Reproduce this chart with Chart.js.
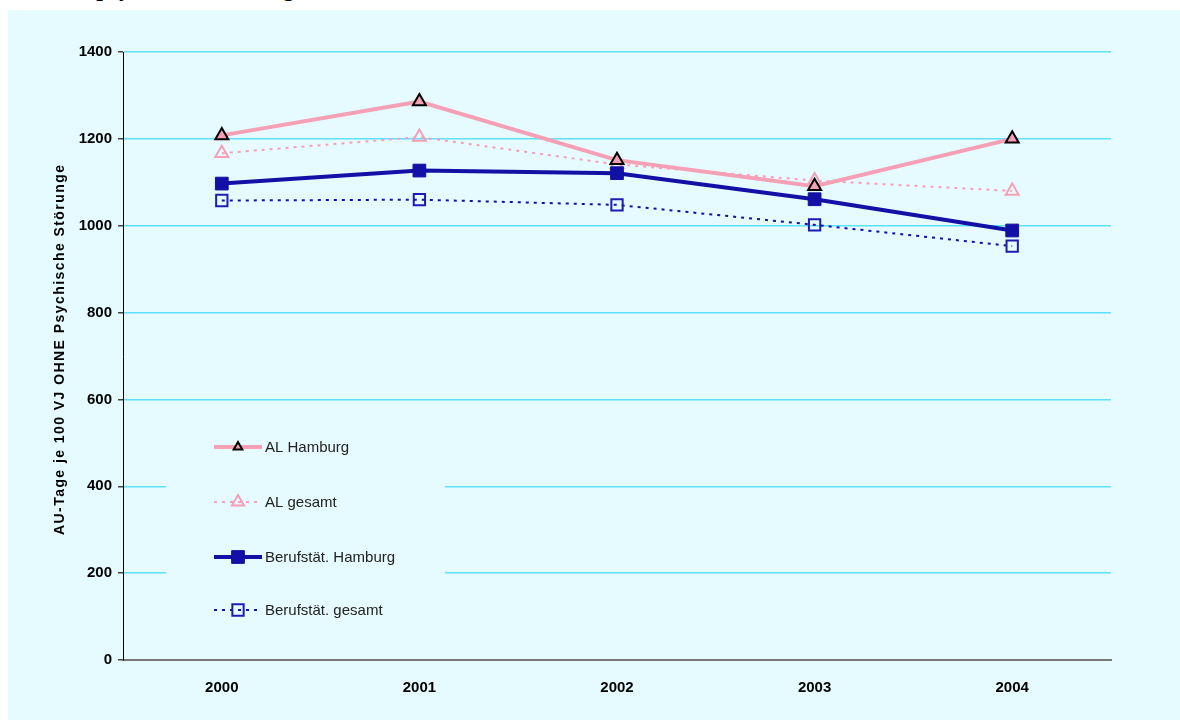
<!DOCTYPE html>
<html>
<head>
<meta charset="utf-8">
<script src="https://cdn.jsdelivr.net/npm/chart.js@4/dist/chart.umd.min.js"></script>
<style>
  html, body { margin: 0; padding: 0; background: #ffffff; width: 1180px; height: 720px; overflow: hidden; }
  #heading { position: absolute; left: 0; top: 0; width: 1180px; height: 10px; overflow: hidden; }
  #heading span { position: absolute; left: 41px; top: -24.5px; font: bold 24px "Liberation Serif", serif; line-height: 24px; color: #000; white-space: nowrap; }
  #panel { position: absolute; left: 8px; top: 10px; width: 1172px; height: 710px; background: #e6fbff; }
  canvas { display: block; }
</style>
</head>
<body>
<div id="heading"><span>ohne psychische Störungen</span></div>
<div id="panel"><canvas id="chart" width="1172" height="710"></canvas></div>
<script>
// Years on the category axis
const years = ['2000', '2001', '2002', '2003', '2004'];

// AU days per 100 insured years, excluding mental disorders
const alHamburg = [1208, 1286, 1151, 1091, 1200];
const alGesamt = [1167, 1204, 1141, 1104, 1080];
const berufHamburg = [1097, 1127, 1121, 1061, 989];
const berufGesamt = [1058, 1060, 1048, 1002, 953];

// Value axis ticks
const yTicks = [0, 200, 400, 600, 800, 1000, 1200, 1400];

const seriesNames = ['AL Hamburg', 'AL gesamt', 'Berufstät. Hamburg', 'Berufstät. gesamt'];
const yTitle = 'AU-Tage je 100 VJ OHNE Psychische Störunge';

const PINK = '#f5a0b4';
const NAVY = '#1111a6';
const PANEL = '#e6fbff';
const FONT = '"Liberation Sans", Arial, sans-serif';

// Rotated value-axis caption, spread out to run along the axis
const axisCaption = {
  id: 'axisCaption',
  afterDraw(chart) {
    const ctx = chart.ctx;
    ctx.save();
    ctx.font = 'bold 14px ' + FONT;
    const plain = ctx.measureText(yTitle).width;
    const target = 370;
    const spacing = Math.max(0, (target - plain) / (yTitle.length - 1));
    ctx.letterSpacing = spacing.toFixed(2) + 'px';
    ctx.translate(52, 340);
    ctx.rotate(-Math.PI / 2);
    ctx.fillStyle = '#000000';
    ctx.textBaseline = 'middle';
    ctx.textAlign = 'left';
    ctx.fillText(yTitle, -target / 2, 0);
    ctx.restore();
  }
};

// Legend drawn inside the plot area, on its own panel-coloured box
const innerLegend = {
  id: 'innerLegend',
  afterDatasetsDraw(chart) {
    const ctx = chart.ctx;
    const box = { x: 158, y: 405, w: 279, h: 225 };
    ctx.save();
    ctx.fillStyle = PANEL;
    ctx.fillRect(box.x, box.y, box.w, box.h);
    const rowY = [437, 492, 547, 600];
    const x0 = 206, x1 = 254, xm = 230;
    chart.data.datasets.forEach((ds, i) => {
      const y = rowY[i];
      ctx.save();
      ctx.strokeStyle = ds.borderColor;
      ctx.lineWidth = ds.borderWidth;
      ctx.setLineDash(ds.borderDash || []);
      ctx.beginPath();
      ctx.moveTo(x0, y);
      ctx.lineTo(x1, y);
      ctx.stroke();
      ctx.restore();
      ctx.save();
      ctx.fillStyle = ds.pointBackgroundColor;
      ctx.strokeStyle = ds.pointBorderColor;
      ctx.lineWidth = ds.pointBorderWidth;
      Chart.helpers.drawPoint(ctx, {
        pointStyle: ds.pointStyle,
        radius: ds.legendRadius,
        borderWidth: ds.pointBorderWidth,
        rotation: 0
      }, xm, y);
      ctx.restore();
      ctx.fillStyle = '#222222';
      ctx.font = '15px ' + FONT;
      ctx.textAlign = 'left';
      ctx.textBaseline = 'middle';
      ctx.fillText(ds.label, 257, y + 1);
    });
    ctx.restore();
  }
};

new Chart(document.getElementById('chart'), {
  type: 'line',
  data: {
    labels: years,
    datasets: [
      {
        label: seriesNames[0],
        data: alHamburg,
        borderColor: PINK,
        borderWidth: 4,
        pointStyle: 'triangle',
        pointRadius: 7.5,
        pointBackgroundColor: PINK,
        pointBorderColor: '#000000',
        pointBorderWidth: 2,
        legendRadius: 5,
        tension: 0,
        order: 2
      },
      {
        label: seriesNames[1],
        data: alGesamt,
        borderColor: PINK,
        borderWidth: 2,
        borderDash: [3, 5],
        pointStyle: 'triangle',
        pointRadius: 7.5,
        pointBackgroundColor: 'rgba(0,0,0,0)',
        pointBorderColor: PINK,
        pointBorderWidth: 2,
        legendRadius: 7,
        tension: 0,
        order: 3
      },
      {
        label: seriesNames[2],
        data: berufHamburg,
        borderColor: NAVY,
        borderWidth: 4,
        pointStyle: 'rect',
        pointRadius: 9,
        pointBackgroundColor: NAVY,
        pointBorderColor: NAVY,
        pointBorderWidth: 1,
        legendRadius: 9,
        tension: 0,
        order: 1
      },
      {
        label: seriesNames[3],
        data: berufGesamt,
        borderColor: NAVY,
        borderWidth: 2,
        borderDash: [3, 5],
        pointStyle: 'rect',
        pointRadius: 8,
        pointBackgroundColor: 'rgba(0,0,0,0)',
        pointBorderColor: '#1c1cb4',
        pointBorderWidth: 2,
        legendRadius: 8,
        tension: 0,
        order: 4
      }
    ]
  },
  options: {
    responsive: false,
    animation: false,
    layout: { padding: { left: 0, top: 42, right: 69, bottom: 0 } },
    plugins: {
      legend: { display: false },
      tooltip: { enabled: false },
      title: { display: false }
    },
    scales: {
      x: {
        type: 'category',
        offset: true,
        grid: { display: false, drawTicks: false, tickLength: 0 },
        border: { display: true, color: '#787878', width: 2 },
        ticks: {
          padding: 19,
          color: '#000000',
          font: { family: FONT, size: 15, weight: 'bold' }
        },
        afterFit(scale) { scale.height = 60; }
      },
      y: {
        min: 0,
        max: 1400,
        afterBuildTicks(scale) { scale.ticks = yTicks.map(v => ({ value: v })); },
        grid: {
          color: '#5ee0ff',
          lineWidth: 1.5,
          drawTicks: true,
          tickLength: 5,
          tickColor: '#444444'
        },
        border: { display: true, color: '#000000', width: 1 },
        ticks: {
          padding: 6,
          color: '#000000',
          font: { family: FONT, size: 15, weight: 'bold' },
          callback: (value) => String(value)
        },
        title: { display: false },
        afterFit(scale) { scale.width = 115; }
      }
    }
  },
  plugins: [innerLegend, axisCaption]
});
</script>
</body>
</html>
